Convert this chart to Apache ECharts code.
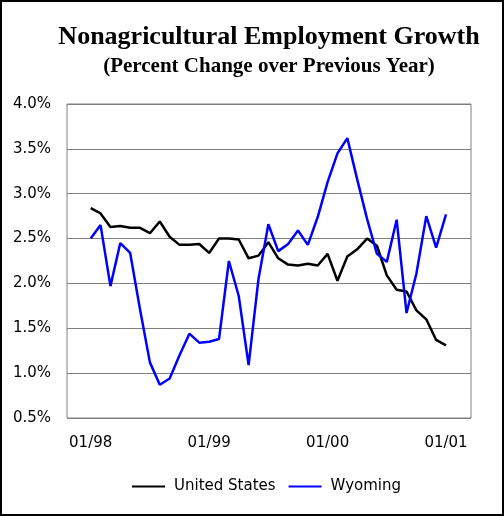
<!DOCTYPE html>
<html>
<head>
<meta charset="utf-8">
<script src="https://cdn.jsdelivr.net/npm/echarts@6/dist/echarts.min.js"></script>
<style>
html,body{margin:0;padding:0;background:#fff;}
#chart{width:504px;height:516px;}
</style>
</head>
<body>
<div id="chart"></div>
<script>
var months = ["01/98","02/98","03/98","04/98","05/98","06/98","07/98","08/98","09/98","10/98","11/98","12/98",
              "01/99","02/99","03/99","04/99","05/99","06/99","07/99","08/99","09/99","10/99","11/99","12/99",
              "01/00","02/00","03/00","04/00","05/00","06/00","07/00","08/00","09/00","10/00","11/00","12/00",
              "01/01"];
var unitedStates = [2.84,2.78,2.63,2.64,2.62,2.62,2.56,2.69,2.52,2.43,2.43,2.44,
                    2.34,2.50,2.50,2.49,2.28,2.31,2.46,2.28,2.21,2.20,2.22,2.20,
                    2.33,2.03,2.30,2.38,2.50,2.42,2.09,1.93,1.91,1.70,1.60,1.37,
                    1.31];
var wyoming = [2.50,2.65,1.97,2.45,2.34,1.71,1.12,0.87,0.94,1.20,1.44,1.34,
               1.35,1.38,2.25,1.86,1.09,2.05,2.66,2.36,2.44,2.59,2.43,2.74,
               3.13,3.45,3.62,3.16,2.72,2.33,2.24,2.71,1.67,2.11,2.75,2.40,
               2.77];
var xTickLabels = ["01/98","01/99","01/00","01/01"];
var xTickIndex = [0,12,24,36];
var yTicks = ["0.5%","1.0%","1.5%","2.0%","2.5%","3.0%","3.5%","4.0%"];

function pairs(arr){ return arr.map(function(v,i){ return [i,v]; }); }

var chart = echarts.init(document.getElementById('chart'), null, {renderer:'canvas'});
var sans = 'DejaVu Sans';
chart.setOption({
  animation:false,
  backgroundColor:'#ffffff',
  title:[
    {text:'Nonagricultural Employment Growth', left:264, top:19, textAlign:'center',
     textStyle:{fontFamily:'Liberation Serif', fontWeight:'bold', fontSize:26, color:'#000'}},
    {text:'(Percent Change over Previous Year)', left:264, top:51, textAlign:'center',
     textStyle:{fontFamily:'Liberation Serif', fontWeight:'bold', fontSize:21, color:'#000'}}
  ],
  grid:{left:67, top:104, right:33, bottom:98, show:true, borderColor:'#808080', borderWidth:1, backgroundColor:'#fff'},
  xAxis:{
    type:'value', min:-2.4, max:38.53,
    axisLine:{show:false}, axisTick:{show:false}, splitLine:{show:false},
    axisLabel:{customValues:xTickIndex, margin:18, color:'#000', fontFamily:sans, fontSize:15,
      formatter:function(v){ var k = xTickIndex.indexOf(Math.round(v)); return k>=0 ? xTickLabels[k] : ''; }}
  },
  yAxis:{
    type:'value', min:0.5, max:4.0, interval:0.5,
    axisLine:{show:false}, axisTick:{show:false},
    splitLine:{show:true, lineStyle:{color:'#808080', width:1}},
    axisLabel:{margin:16, color:'#000', fontFamily:sans, fontSize:15,
      formatter:function(v){ var k = Math.round((v-0.5)/0.5); return yTicks[k]; }}
  },
  legend:{
    left:127, top:474, itemWidth:33, itemHeight:2, itemGap:13, icon:'rect',
    textStyle:{fontFamily:sans, fontSize:15, color:'#000', padding:[0,0,0,4]},
    data:['United States','Wyoming']
  },
  graphic:[{type:'rect', shape:{x:1, y:1, width:502, height:514}, style:{fill:'none', stroke:'#000', lineWidth:2}, silent:true}],
  series:[
    {name:'United States', type:'line', data:pairs(unitedStates), symbol:'none', itemStyle:{color:'#000'}, lineStyle:{color:'#000', width:2.5}},
    {name:'Wyoming', type:'line', data:pairs(wyoming), symbol:'none', itemStyle:{color:'#0000ff'}, lineStyle:{color:'#0000ff', width:2.5}}
  ]
});
</script>
</body>
</html>
